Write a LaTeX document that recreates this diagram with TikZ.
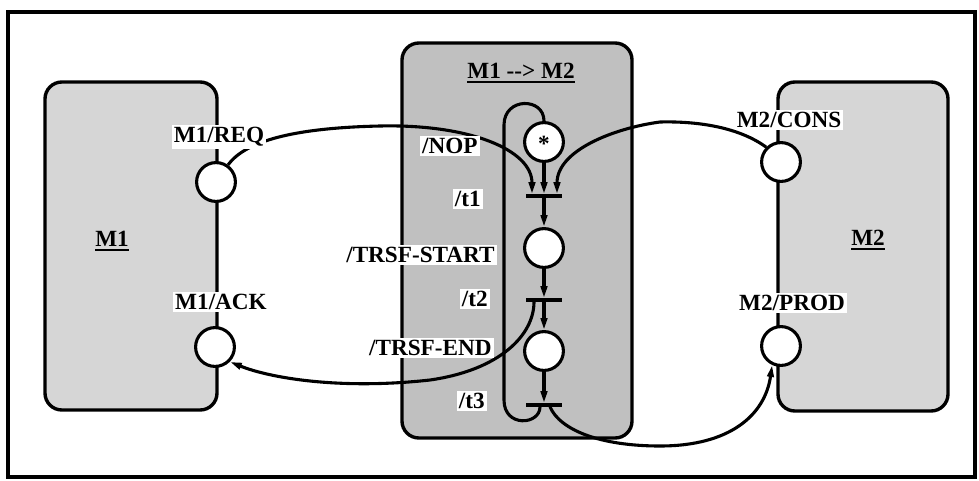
\documentclass[tikz,border=0pt]{standalone}
\usepackage{fontspec}
\setmainfont{Liberation Serif}
\newcommand{\ulbold}[1]{\setbox0\hbox{#1}\rlap{\raisebox{-0.2em}{\rule{\wd0}{1.3pt}}}\box0}
\usetikzlibrary{arrows.meta,calc,fit}
\definecolor{modfill}{HTML}{D6D6D6}
\definecolor{linkfill}{HTML}{C0C0C0}
\tikzset{
  modbox/.style={draw, line width=2.4pt, rounded corners=12pt, inner sep=0pt},
  place/.style={circle, draw, fill=white, line width=2.2pt,
    minimum size=0.97cm, inner sep=0pt},
  transbar/.style={fill=black, minimum width=0.9cm, minimum height=2.2pt,
    inner sep=0pt},
  flowarc/.style={-{Triangle[length=8.5pt,width=4.5pt]}, line width=2.2pt},
  loopline/.style={line width=2.2pt},
  tag/.style={fill=white, inner sep=1.5pt},
  modname/.style={inner sep=1pt},
}
\begin{document}
\begin{tikzpicture}[x=0.025cm,y=-0.025cm,font=\fontsize{16.5}{18}\selectfont\bfseries]
  \useasboundingbox (0,0) rectangle (979,480);
  % frame
  \draw[line width=2.4pt] (8,12) rectangle (975,477);
  % the two modules and the link between them
  \node[modbox, fill=modfill, fit={(45,82) (217,410)}] (m1box) {};
  \node[modbox, fill=linkfill, fit={(402,43) (632,438)}] (linkbox) {};
  \node[modbox, fill=modfill, fit={(778,82) (948,411)}] (m2box) {};
  \node[modname] (m1name) at (112,241) {\ulbold{M1}};
  \node[modname] (m2name) at (868,240) {\ulbold{M2}};
  \node[modname] (linkname) at (521,73) {\ulbold{M1 -{}-> M2}};
  % places and transitions of the link
  \node[place] (p0) at (544,142) {\smash{\raisebox{-0.42em}{*}}};
  \node[transbar] (t1) at (544,196) {};
  \node[place] (p1) at (544,248) {};
  \node[transbar] (t2) at (544,300) {};
  \node[place] (p2) at (544,351) {};
  \node[transbar] (t3) at (544,405) {};
  % interface places
  \node[place] (m1req) at (216,182) {};
  \node[place] (m1ack) at (215,347) {};
  \node[place] (m2cons) at (781,162) {};
  \node[place] (m2prod) at (781,346) {};
  % chain
  \draw[flowarc] (p0) -- (t1);
  \draw[flowarc] (t1) -- (p1);
  \draw[flowarc] (p1) -- (t2);
  \draw[flowarc] (t2) -- (p2);
  \draw[flowarc] (p2) -- (t3);
  % arcs to and from the modules
  \draw[flowarc] (m1req.55) .. controls (245,142) and (290,128) .. (380,126)
    .. controls (470,124) and (532,150) .. ($(t1.north)+(-12,0)$);
  \draw[flowarc] (m2cons.135) .. controls (740,128) and (700,121) .. (660,122)
    .. controls (615,128) and (557,150) .. ($(t1.north)+(13,0)$);
  \draw[flowarc] ($(t2.south)+(-10,0)$) .. controls (534,335) and (500,370) .. (430,380)
    .. controls (340,390) and (270,378) .. (m1ack.-45);
  \draw[flowarc] ($(t3.south)+(6,0)$) .. controls (560,430) and (600,446) .. (660,446)
    .. controls (730,446) and (765,415) .. (m2prod.-115);
  \draw[loopline] ($(t3.south)+(-4,0)$) .. controls (540,425) and (504,428) .. (504,400)
    -- (504,125) .. controls (504,97) and (544,97) .. (p0.north);
  % labels
  \node[tag] (reqtag) at (219,137) {M1/REQ};
  \node[tag] (acktag) at (221,302) {M1/ACK};
  \node[tag] (constag) at (789,120) {M2/CONS};
  \node[tag] (prodtag) at (792,303) {M2/PROD};
  \node[tag, anchor=east] (noptag) at (480,146) {/NOP};
  \node[tag, anchor=east] (t1tag) at (483,199) {/t1};
  \node[tag, anchor=east] (starttag) at (497,255) {/TRSF-START};
  \node[tag, anchor=east] (t2tag) at (490,299) {/t2};
  \node[tag, anchor=east] (endtag) at (494,348) {/TRSF-END};
  \node[tag, anchor=east] (t3tag) at (487,401) {/t3};
\end{tikzpicture}
\end{document}
